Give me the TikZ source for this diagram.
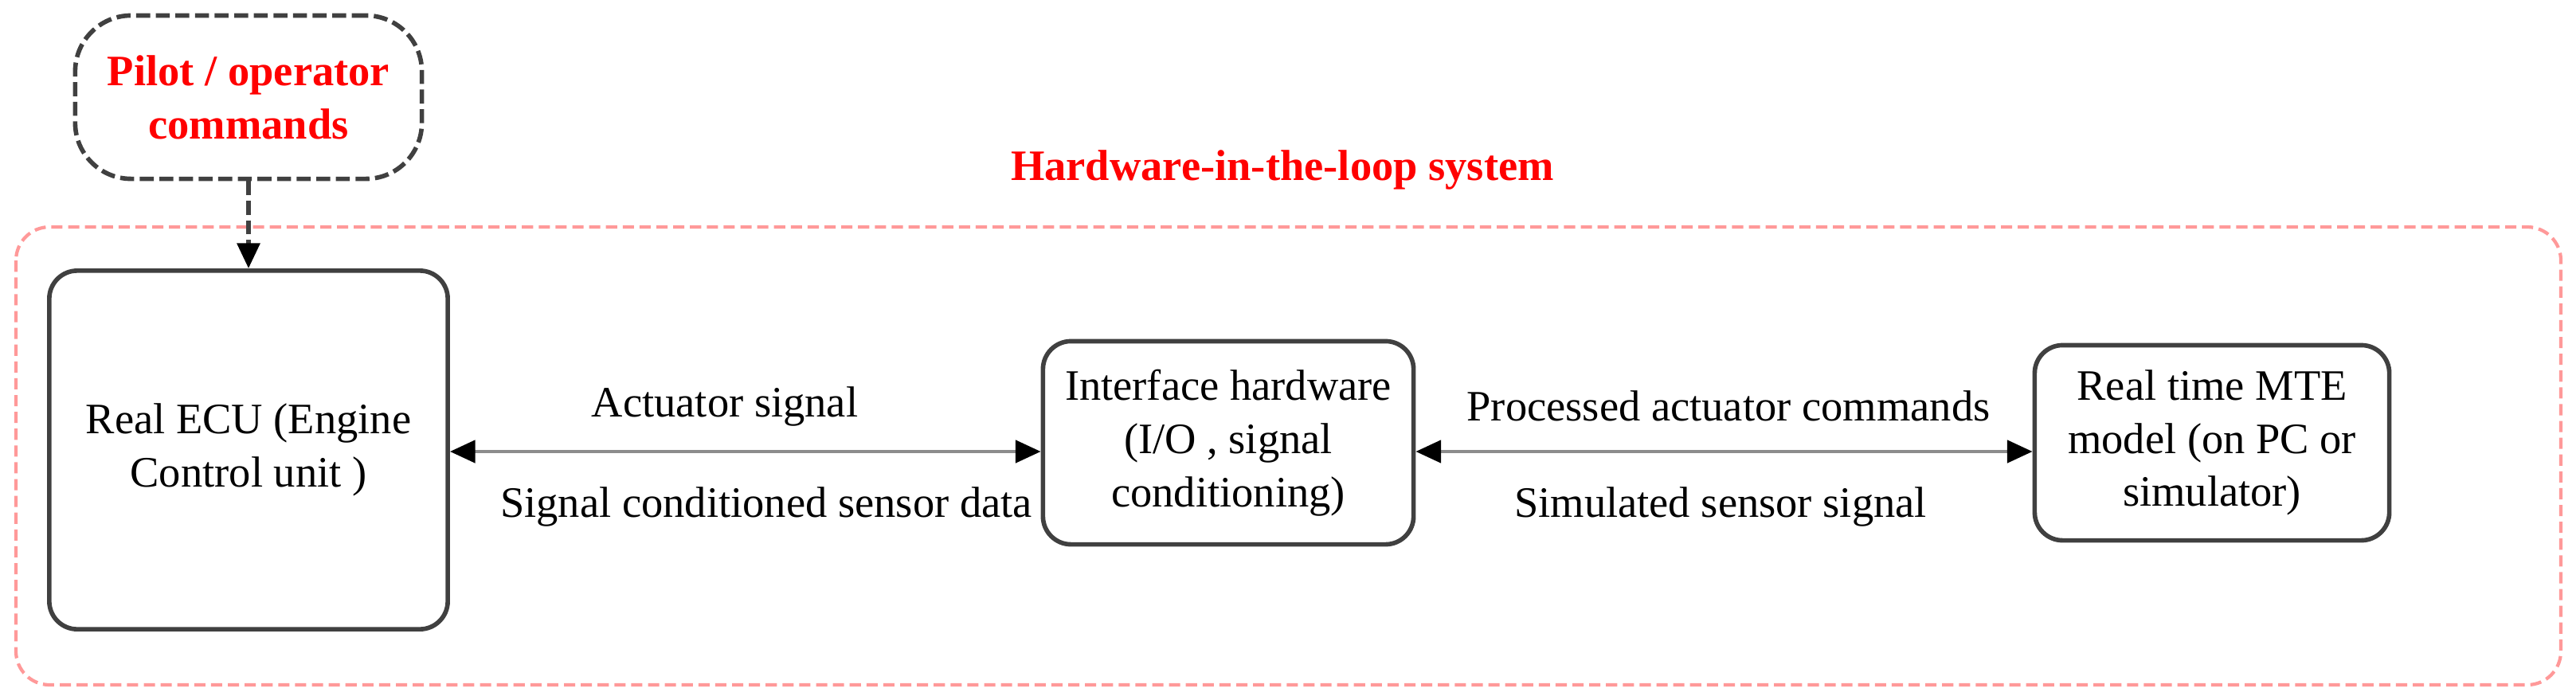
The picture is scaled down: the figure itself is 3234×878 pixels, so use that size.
\documentclass[tikz,border=0pt]{standalone}
\usepackage{fontspec}
\setmainfont{Liberation Serif}
\usetikzlibrary{arrows.meta}

\begin{document}
\begin{tikzpicture}[x=0.01cm,y=-0.01cm,
    every node/.style={font=\fontsize{15.5}{19}\selectfont},
    block/.style={draw=black!75, line width=1.6pt, rounded corners=10pt, align=center},
    redtext/.style={red, font=\fontsize{15.5}{19}\selectfont\bfseries, align=center},
    link/.style={draw=black!45, line width=1.2pt, {Triangle[black,length=9pt,width=8pt]}-{Triangle[black,length=9pt,width=8pt]}}]
    \useasboundingbox (0,0) rectangle (3234,878);
                    \draw [red!40, line width=1.2pt, dash pattern=on 4pt off 2pt, rounded corners=12pt] (20,285) rectangle (3215,860);
                    \node [redtext] (title) at (1610,213) {Hardware-in-the-loop system};
                    \node [block, redtext, draw=black!75, dash pattern=on 5pt off 2pt, rounded corners=20pt, minimum width=4.35cm, minimum height=2.05cm] (pilot) at (312,122) {Pilot / operator\\commands};
                    \node [block, minimum width=5cm, minimum height=4.5cm] (ecu) at (312,565) {Real ECU (Engine\\Control unit )};
                    \node [block, minimum width=4.65cm, minimum height=2.55cm] (iface) at (1542,556) {Interface hardware\\(I/O , signal\\conditioning)};
                    \node [block, minimum width=4.45cm, minimum height=2.45cm] (mte) at (2777,556) {Real time MTE\\model (on PC or\\simulator)};
                    \draw [black!75, line width=1.6pt, dash pattern=on 5pt off 2pt, -{Triangle[black,length=9pt,width=8pt]}] (pilot) -- (ecu);
                    \draw [link] (ecu.east |- 0,567) -- (iface.west |- 0,567);
                    \draw [link] (iface.east |- 0,567) -- (mte.west |- 0,567);
                    \node (act) at (910,510) {Actuator signal};
                    \node (sens) at (962,636) {Signal conditioned sensor data};
                    \node (proc) at (2170,510) {Processed actuator commands};
                    \node (sim) at (2160,636) {Simulated sensor signal};
\end{tikzpicture}
\end{document}
